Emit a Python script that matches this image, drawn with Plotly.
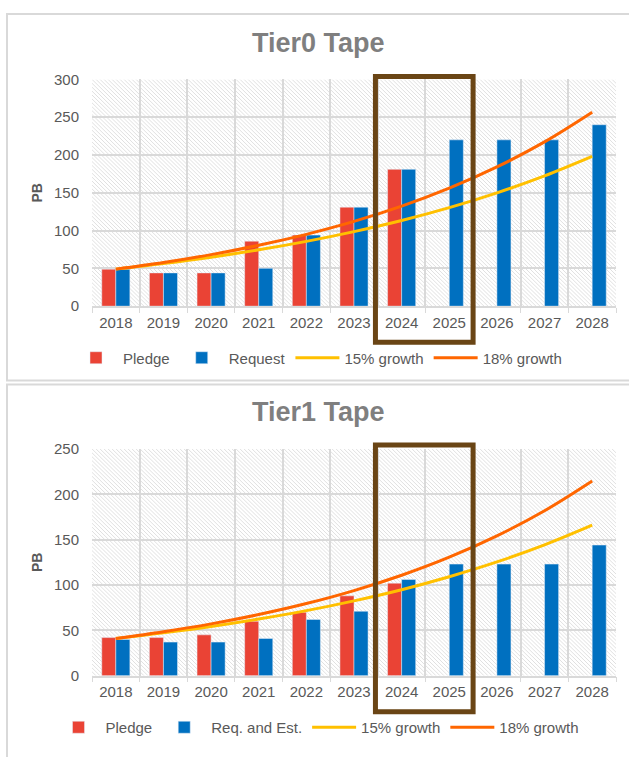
import base64
import plotly.graph_objects as go

# ---------------- data ----------------
years = ["2018", "2019", "2020", "2021", "2022", "2023", "2024", "2025", "2026", "2027", "2028"]

t0_pledge = [49, 44, 44, 86, 94, 131, 181, None, None, None, None]
t0_request = [49, 44, 44, 50, 94, 131, 181, 220, 220, 220, 240]
t0_g15 = [49, 56.4, 64.8, 74.5, 85.7, 98.6, 113.3, 130.3, 149.9, 172.4, 198.2]
t0_g18 = [49, 57.8, 68.2, 80.5, 95.0, 112.1, 132.3, 156.1, 184.2, 217.3, 256.5]

t1_pledge = [42, 42, 45, 60, 70, 88, 102, None, None, None, None]
t1_request = [40, 37, 37, 41, 62, 71, 106, 123, 123, 123, 144]
t1_g15 = [41, 47.2, 54.2, 62.4, 71.7, 82.5, 94.8, 109.1, 125.4, 144.2, 165.9]
t1_g18 = [41, 48.4, 57.1, 67.4, 79.5, 93.8, 110.7, 130.6, 154.1, 181.8, 214.6]

y_ticks_t0 = [0, 50, 100, 150, 200, 250, 300]
y_ticks_t1 = [0, 50, 100, 150, 200, 250]

# ---------------- style ----------------
W, H = 629, 757
RED = "#EA4335"
BLUE = "#0070C0"
YEL = "#FFC000"
ORA = "#FF6600"
GRID = "#D9D9D9"
TXT = "#595959"
FONT = "Liberation Sans, Arial, sans-serif"


def px_x(p):
    return p / W


def px_y(p):
    return 1 - p / H


# plot areas in pixels
XL, XR = 92, 616
T0_TOP, T0_BOT = 72, 304
T1_TOP, T1_BOT = 450, 682

fig = go.Figure()


def add_chart(suffix, legend, pledge, request, g15, g18, req_name):
    xa = "x" + suffix
    ya = "y" + suffix
    fig.add_trace(go.Bar(x=years, y=pledge, name="Pledge", marker_color=RED,
                         xaxis=xa, yaxis=ya, legend=legend))
    fig.add_trace(go.Bar(x=years, y=request, name=req_name, marker_color=BLUE,
                         xaxis=xa, yaxis=ya, legend=legend))
    fig.add_trace(go.Scatter(x=years, y=g15, name="15% growth", mode="lines",
                             line=dict(color=YEL, width=3, shape="spline"),
                             xaxis=xa, yaxis=ya, legend=legend))
    fig.add_trace(go.Scatter(x=years, y=g18, name="18% growth", mode="lines",
                             line=dict(color=ORA, width=3, shape="spline"),
                             xaxis=xa, yaxis=ya, legend=legend))


add_chart("", "legend", t0_pledge, t0_request, t0_g15, t0_g18, "Request")
add_chart("2", "legend2", t1_pledge, t1_request, t1_g15, t1_g18, "Req. and Est.")

xaxis_common = dict(
    type="category", tickson="boundaries", showgrid=True, gridcolor=GRID, gridwidth=1.5,
    ticks="outside", ticklen=5, tickcolor=GRID, showline=True, linecolor=GRID, linewidth=1.5,
    tickfont=dict(family=FONT, size=15, color=TXT), ticklabelstandoff=2,
    range=[-0.5, 10.5], fixedrange=True,
)
yaxis_common = dict(
    showgrid=True, gridcolor=GRID, gridwidth=1.5, zeroline=False, showline=False,
    ticks="", tickfont=dict(family=FONT, size=15, color=TXT), ticklabelstandoff=12,
    title=dict(text="<b>PB</b>", font=dict(family=FONT, size=14, color=TXT), standoff=8),
)

legend_common = dict(orientation="h", yanchor="middle", xanchor="center",
                     font=dict(family=FONT, size=15, color=TXT), bgcolor="rgba(0,0,0,0)",
                     traceorder="normal", itemwidth=44)

fig.update_layout(
    width=W, height=H, autosize=False,
    margin=dict(l=0, r=0, t=0, b=0, pad=0),
    paper_bgcolor="white", plot_bgcolor="rgba(0,0,0,0)",
    barmode="group", bargap=0.41, bargroupgap=0,
    font=dict(family=FONT, color=TXT),
    xaxis=dict(domain=[px_x(XL), px_x(XR)], anchor="y", **xaxis_common),
    yaxis=dict(domain=[px_y(T0_BOT), px_y(T0_TOP)], anchor="x", range=[0, 300],
               tickvals=y_ticks_t0, **yaxis_common),
    xaxis2=dict(domain=[px_x(XL), px_x(XR)], anchor="y2", **xaxis_common),
    yaxis2=dict(domain=[px_y(T1_BOT), px_y(T1_TOP)], anchor="x2", range=[0, 250],
                tickvals=y_ticks_t1, **yaxis_common),
    legend=dict(x=px_x(318), y=px_y(357), **legend_common),
    legend2=dict(x=px_x(318), y=px_y(735), **legend_common),
    showlegend=True,
)

# titles
fig.add_annotation(text="<b>Tier0 Tape</b>", xref="paper", yref="paper", x=px_x(318), y=px_y(35),
                   showarrow=False, font=dict(family=FONT, size=27, color="#7F7F7F"),
                   xanchor="center", yanchor="middle")
fig.add_annotation(text="<b>Tier1 Tape</b>", xref="paper", yref="paper", x=px_x(318), y=px_y(412),
                   showarrow=False, font=dict(family=FONT, size=27, color="#7F7F7F"),
                   xanchor="center", yanchor="middle")

# hatched plot background (decorative)
def hatch_svg(w, h):
    svg = (
        f'<svg xmlns="http://www.w3.org/2000/svg" width="{w}" height="{h}" '
        f'viewBox="0 0 {w} {h}" preserveAspectRatio="none">'
        '<defs><pattern id="p" patternUnits="userSpaceOnUse" width="4" height="4">'
        '<rect width="4" height="4" fill="#ffffff"/>'
        '<path d="M-1,-1 L5,5 M-1,3 L1,5 M3,-1 L5,1" stroke="#e0e0e0" stroke-width="1"/>'
        '</pattern></defs>'
        f'<rect width="{w}" height="{h}" fill="url(#p)"/></svg>'
    )
    return "data:image/svg+xml;base64," + base64.b64encode(svg.encode()).decode()


for top, bot in [(T0_TOP, T0_BOT), (T1_TOP, T1_BOT)]:
    fig.add_layout_image(dict(
        source=hatch_svg(XR - XL, bot - top), xref="paper", yref="paper",
        x=px_x(XL), y=px_y(top), sizex=(XR - XL) / W, sizey=(bot - top) / H,
        xanchor="left", yanchor="top", sizing="stretch", layer="below",
    ))

# chart outer frames (decorative)
fig.add_shape(type="rect", xref="paper", yref="paper", x0=px_x(7), x1=px_x(640),
              y0=px_y(380), y1=px_y(5), line=dict(color="#D9D9D9", width=2), layer="below")
fig.add_shape(type="rect", xref="paper", yref="paper", x0=px_x(7), x1=px_x(640),
              y0=px_y(770), y1=px_y(384), line=dict(color="#D9D9D9", width=2), layer="below")

# highlight boxes around 2024-2025
BOX = "#6A4515"
fig.add_shape(type="rect", xref="x", yref="paper", x0=5.45, x1=7.5,
              y0=px_y(341), y1=px_y(69), line=dict(color=BOX, width=5))
fig.add_shape(type="rect", xref="x2", yref="paper", x0=5.45, x1=7.5,
              y0=px_y(719), y1=px_y(446), line=dict(color=BOX, width=5))

fig.write_html("out.html")
